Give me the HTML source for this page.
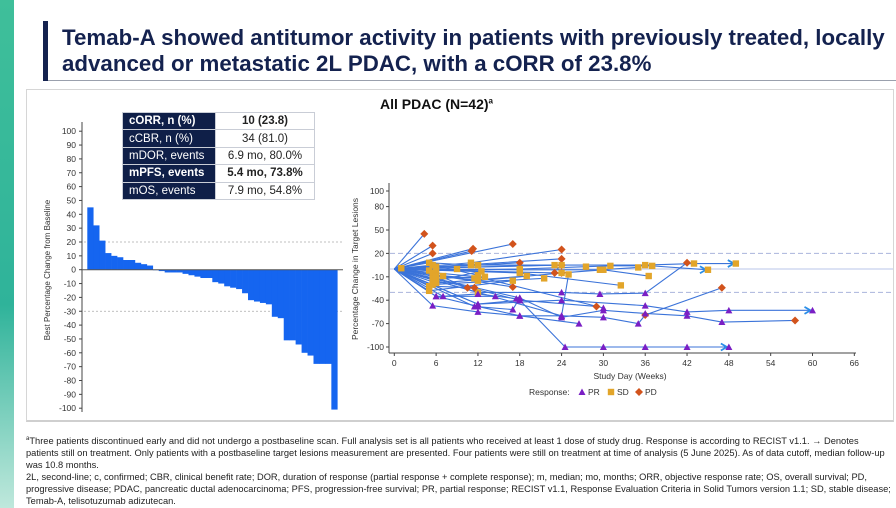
<!DOCTYPE html>
<html><head><meta charset="utf-8">
<style>
body{margin:0;width:896px;height:508px;overflow:hidden;background:#fff;font-family:"Liberation Sans",Arial,sans-serif;position:relative}
.abs{position:absolute}
#title{left:62px;top:25px;font-size:22.3px;font-weight:bold;color:#14224f;line-height:26px;white-space:nowrap}
#foot{left:26px;top:433px;width:866px;font-size:9.3px;line-height:12px;color:#222}
table{border-collapse:collapse;font-size:11.5px}
td{height:16.4px;padding:0 6px;border:1px solid #c9cdd6}
td.l{background:#0f1f48;color:#fff;width:80px}
td.r{text-align:center;width:86px;color:#222}
</style></head><body>
<div class="abs" style="left:0;top:0;width:14px;height:508px;background:linear-gradient(#3fbf9a,#2fb39a 60%,#bfe8dc)"></div>
<div class="abs" style="left:43px;top:21px;width:5px;height:60px;background:#14224f"></div>
<div class="abs" style="left:48px;top:80px;width:848px;height:1px;background:#9aa0ad"></div>
<div id="title" class="abs">Temab-A showed antitumor activity in patients with previously treated, locally<br>advanced or metastatic 2L PDAC, with a cORR of 23.8%</div>
<div class="abs" style="left:26px;top:89px;width:866px;height:330px;border:1px solid #d6d6d6;border-bottom:2px solid #cfcfcf"></div>
<div class="abs" style="left:380px;top:96px;font-size:14px;font-weight:bold;color:#111">All PDAC (N=42)<sup style="font-size:8px">a</sup></div>
<table class="abs" style="left:122px;top:112px">
<tr><td class="l"><b>cORR, n (%)</b></td><td class="r"><b>10 (23.8)</b></td></tr>
<tr><td class="l">cCBR, n (%)</td><td class="r">34 (81.0)</td></tr>
<tr><td class="l">mDOR, events</td><td class="r">6.9 mo, 80.0%</td></tr>
<tr><td class="l"><b>mPFS, events</b></td><td class="r"><b>5.4 mo, 73.8%</b></td></tr>
<tr><td class="l">mOS, events</td><td class="r">7.9 mo, 54.8%</td></tr>
</table>
<svg class="abs" style="left:0;top:0" width="896" height="508" id="svg"></svg>
<div id="foot" class="abs"><sup style="font-size:6px">a</sup>Three patients discontinued early and did not undergo a postbaseline scan. Full analysis set is all patients who received at least 1 dose of study drug. Response is according to RECIST v1.1. → Denotes patients still on treatment. Only patients with a postbaseline target lesions measurement are presented. Four patients were still on treatment at time of analysis (5 June 2025). As of data cutoff, median follow-up was 10.8 months.<br>2L, second-line; c, confirmed; CBR, clinical benefit rate; DOR, duration of response (partial response + complete response); m, median; mo, months; ORR, objective response rate; OS, overall survival; PD, progressive disease; PDAC, pancreatic ductal adenocarcinoma; PFS, progression-free survival; PR, partial response; RECIST v1.1, Response Evaluation Criteria in Solid Tumors version 1.1; SD, stable disease; Temab-A, telisotuzumab adizutecan.</div>
<script>
const wfValues=[45,32,21,12,10,9,7,7,5,4,3,0,-1,-2,-2,-2,-3,-4,-5,-6,-6,-9,-10,-12,-13,-14,-17,-22,-23,-24,-25,-34,-35,-51,-51,-54,-60,-62,-68,-68,-68,-101];
const wfTicks=[100,90,80,70,60,50,40,30,20,10,0,-10,-20,-30,-40,-50,-60,-70,-80,-90,-100];
const spXTicks=[0,6,12,18,24,30,36,42,48,54,60,66];
const spYTicks=[100,80,50,20,-10,-40,-70,-100];
const trackWeeks=[[0,4.3],[0,5.5],[0,5.5],[0,11.3],[0,11.1],[0,17],[0,11,24],[0,12,18],[0,6,24],[0,5.5,10.5],[0,17],[0,23,24],[0,24],[0,23],
[0,12,24,29.5,36,42],[0,12,24,36,43,49],[0,6,18,27.5,31,37,45],[0,18,29.5,35],[0,12,24,30,36.5],[0,18,32.5],[0,12,18,24.5,30,36,42,48],
[0,6,12,18,24,30,35,36,47],[0,12,24,36,42,48,60],[0,18,24,30,36,42,47,57.5],[0,5.5,12,18,26.5],[0,18,29],[0,6,14.5],[0,7,12,17.5],
[0,5,11],[0,5.5,12],[0,5,9],[0,6,11.5],[0,5.5,13],[0,6,12.5],[0,5,17],[0,6,19],[0,5.5,21.5],[0,5,11.5],[0,1],[0,6,7],[0,11.5,17,18],[0,12,30],[0,24,25]];
const trackValues=[[0,45],[0,30],[0,20],[0,26],[0,23],[0,32],[0,8,25],[0,5,8],[0,3,13],[0,-5,-24],[0,-23],[0,5,-5],[0,5],[0,-5],
[0,-30,-30,-32,-31,8],[0,5,5,5,7,7],[0,-2,0,3,4,4,-1],[0,-1,-1,2],[0,-15,-5,-1,-9],[0,-5,-21],[0,-45,-40,-100,-100,-100,-100,-100],
[0,-35,-48,-60,-60,-62,-70,-59,-24],[0,-45,-40,-47,-55,-53,-53],[0,-37,-62,-53,-57,-60,-68,-66],[0,-47,-55,-60,-70],[0,-40,-48],[0,-35,-35],[0,-35,-32,-38],
[0,8,5],[0,5,-8],[0,-2,0],[0,-8,-12],[0,-12,-10],[0,-15,-3],[0,-28,-15],[0,-18,-9],[0,-20,-12],[0,-22,-24],[0,1],[0,-10,-9],[0,-48,-52,-37],[0,-10,-50],[0,-60,-7]];
const trackResp=[['','D'],['','D'],['','D'],['','D'],['','D'],['','D'],['','S','D'],['','S','D'],['','S','D'],['','S','D'],['','D'],['','S','D'],['','D'],['','D'],
['','S','P','P','P','D'],['','S','S','S','S','S'],['','S','S','S','S','S','S'],['','S','S','S'],['','S','S','S','S'],['','S','S'],['','P','P','P','P','P','P','P'],
['','P','P','P','P','P','P','D','D'],['','P','P','P','P','P','P'],['','P','P','P','P','P','P','D'],['','P','P','P','P'],['','P','D'],['','P','P'],['','P','P','P'],
['','S','S'],['','S','S'],['','S','S'],['','S','S'],['','S','S'],['','S','S'],['','S','S'],['','S','S'],['','S','S'],['','S','D'],['','S'],['','S','S'],['','P','P','P'],['','S','P'],['','P','S']];
const trackArrow=[0,0,0,0,0,0,0,0,0,0,0,0,0,0,0,1,1,0,0,0,1,0,1,0,0,0,0,0,0,0,0,0,0,0,0,0,0,0,0,0,0,0,0];

const NS='http://www.w3.org/2000/svg',svg=document.getElementById('svg');
function mk(t,a,p){const e=document.createElementNS(NS,t);for(const k in a)e.setAttribute(k,a[k]);(p||svg).appendChild(e);return e;}
const wfY=v=>269.7-v*1.385, wfX0=87.3, wfW=250/wfValues.length;
const wg=mk('g',{});


[20,-30].forEach(v=>{const l=mk('line',{x1:84,x2:343,y1:wfY(v),y2:wfY(v),stroke:'#aaa','stroke-dasharray':'2,2','stroke-width':0.8},wg);

});
wfValues.forEach((v,i)=>{const r=mk('rect',{x:wfX0+i*wfW,y:Math.min(wfY(v),wfY(0)),width:wfW+0.3,height:Math.max(Math.abs(wfY(v)-wfY(0)),0.5),fill:'#1565f0'},wg);

});
mk('line',{x1:82,x2:82,y1:122,y2:412,stroke:'#444'},wg);
mk('line',{x1:82,x2:343,y1:wfY(0),y2:wfY(0),stroke:'#555'},wg);
wfTicks.forEach(v=>{mk('line',{x1:79,x2:82,y1:wfY(v),y2:wfY(v),stroke:'#444'},wg);
const t=mk('text',{x:76,y:wfY(v)+3,'text-anchor':'end','font-size':8.5,fill:'#333'},wg);t.textContent=v;

});
const wt=mk('text',{x:0,y:0,transform:'translate(50,270) rotate(-90)','text-anchor':'middle','font-size':8,fill:'#333'},wg);wt.textContent='Best Percentage Change from Baseline';


const sx=w=>394.3+w*6.97, sy=v=>269-v*0.78;
const sg=mk('g',{});


[20,-30].forEach(v=>{const l=mk('line',{x1:390,x2:893,y1:sy(v),y2:sy(v),stroke:'#a9b4dc','stroke-dasharray':'5,3','stroke-width':1},sg);

});
mk('line',{x1:390,x2:893,y1:sy(0),y2:sy(0),stroke:'#b8c4e8','stroke-width':1},sg);
trackWeeks.forEach((ws,i)=>{const pts=ws.map((w,j)=>sx(w)+','+sy(trackValues[i][j])).join(' ');
const pl=mk('polyline',{points:pts,fill:'none',stroke:'#3b73d9','stroke-width':1.1},sg);


if(trackArrow[i]){const n=ws.length-1,x=sx(ws[n])-2,y=sy(trackValues[i][n]);
const a=mk('path',{d:`M${x-6},${y-3.5} L${x},${y} L${x-6},${y+3.5}`,fill:'none',stroke:'#2a8ee8','stroke-width':1.8},sg);

}});
function marker(t,x,y,g){let e;
if(t==='P')e=mk('path',{d:`M${x},${y-3.5} L${x+3.5},${y+3} L${x-3.5},${y+3}Z`,fill:'#7a1fc4'},g);
else if(t==='S')e=mk('rect',{x:x-3.2,y:y-3.2,width:6.4,height:6.4,fill:'#e2a52a'},g);
else e=mk('path',{d:`M${x},${y-4} L${x+4},${y} L${x},${y+4} L${x-4},${y}Z`,fill:'#d2531c'},g);return e;}
trackWeeks.forEach((ws,i)=>ws.forEach((w,j)=>{const r=trackResp[i][j];if(!r)return;
const m=marker(r,sx(w),sy(trackValues[i][j]),sg);

}));
mk('line',{x1:389,x2:389,y1:183,y2:353,stroke:'#444'},sg);
mk('line',{x1:389,x2:856,y1:353,y2:353,stroke:'#444'},sg);
spYTicks.forEach(v=>{mk('line',{x1:386,x2:389,y1:sy(v),y2:sy(v),stroke:'#444'},sg);
const t=mk('text',{x:384,y:sy(v)+3,'text-anchor':'end','font-size':8.5,fill:'#333'},sg);t.textContent=v;

});
spXTicks.forEach(v=>{mk('line',{x1:sx(v),x2:sx(v),y1:353,y2:356,stroke:'#444'},sg);
const t=mk('text',{x:sx(v),y:366,'text-anchor':'middle','font-size':8.5,fill:'#333'},sg);t.textContent=v;

});
const xt=mk('text',{x:630,y:379,'text-anchor':'middle','font-size':8.5,fill:'#333'},sg);xt.textContent='Study Day (Weeks)';


const yt=mk('text',{x:0,y:0,transform:'translate(358,269) rotate(-90)','text-anchor':'middle','font-size':8.5,fill:'#333'},sg);yt.textContent='Percentage Change in Target Lesions';


const lg=mk('g',{},sg);


const lt=mk('text',{x:529,y:395,'font-size':8.5,fill:'#333'},lg);lt.textContent='Response:';
[['P',582,'PR'],['S',611,'SD'],['D',639,'PD']].forEach(([t,x,s])=>{marker(t,x,392,lg);const tx=mk('text',{x:x+6,y:395,'font-size':8.5,fill:'#333'},lg);tx.textContent=s;});
</script>
</body></html>
